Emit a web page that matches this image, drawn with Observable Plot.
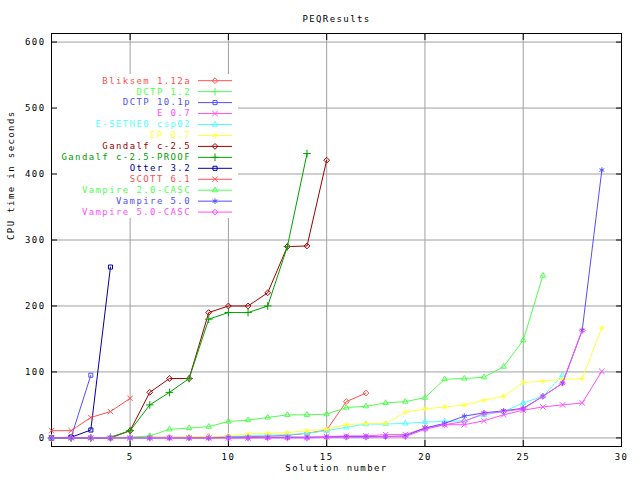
<!DOCTYPE html>
<html><head><meta charset="utf-8">
<script src="https://cdn.jsdelivr.net/npm/d3@7"></script>
<script src="https://cdn.jsdelivr.net/npm/@observablehq/plot@0.6"></script>
<style>body{margin:0;background:#fff} svg{display:block}</style>
</head><body><div id="chart"></div>
<script>
const title = "PEQResults";
const xLabel = "Solution number";
const yLabel = "CPU time in seconds";
const xTicks = [5, 10, 15, 20, 25, 30];
const yTicks = [0, 100, 200, 300, 400, 500, 600];

const seriesNames = ["Bliksem 1.12a", "DCTP 1.2", "DCTP 10.1p", "E 0.7", "E-SETHEO csp02", "EP 0.7",
  "Gandalf c-2.5", "Gandalf c-2.5-PROOF", "Otter 3.2", "SCOTT 6.1", "Vampire 2.0-CASC", "Vampire 5.0", "Vampire 5.0-CASC"];
const seriesColors = ["#ff5050", "#50ff50", "#5050ff", "#ff50ff", "#50ffff", "#ffff40",
  "#a00000", "#00a000", "#0000a0", "#ff5050", "#50ff50", "#5050ff", "#ff50ff"];
const seriesSymbols = ["diamond2", "plus", "square2", "times", "triangle2", "asterisk",
  "diamond2", "plus", "square2", "times", "triangle2", "asterisk", "diamond2"];

// CPU times (seconds) per solution number, starting at 1
const bliksem = [0,0,0,0,0,1,1,1,2,2,2,3,4,7,12,55,68];
const dctp12 = [0,0,0,0,1,1];
const dctp101p = [0,1,95];
const e07 = [0,0,0,0,0,0,0,0,0,0,0,1,1,1,2,3,3,5,5,15,20,20,26,35,42,47,50,53,101];
const eSetheo = [0,0,0,0,0,0,1,1,1,2,3,4,5,7,11,16,21,21,22,24,25,26,35,40,53,63,95];
const ep07 = [0,0,0,0,0,1,1,2,2,3,6,7,8,11,13,20,22,22,39,44,47,50,57,63,84,86,89,90,167];
const gandalf = [0,0,0,0,11,69,90,90,190,200,200,220,290,291,421];
const gandalfProof = [0,0,0,1,11,50,69,90,180,190,190,200,290,431];
const otter = [0,1,12,259];
const scott = [11,11,31,40,60];
const vampire20 = [0,0,0,1,1,3,13,15,17,25,27,31,35,35,36,46,48,53,55,61,89,90,92,108,148,246];
const vampire50 = [0,0,0,0,0,0,0,0,0,1,1,1,1,1,1,2,2,2,3,15,22,33,38,41,45,63,83,163,406];
const vampire50casc = [0,0,0,0,0,0,0,0,0,0,0,0,0,0,1,1,1,2,2,13,20,25,37,40,44,63,83,163];

const seriesValues = [bliksem, dctp12, dctp101p, e07, eSetheo, ep07, gandalf, gandalfProof,
  otter, scott, vampire20, vampire50, vampire50casc];

const FONT = "'DejaVu Sans Mono', monospace";
const FS = 9;
const LS = "1.4px";
const R = 2.6;

const seriesMarks = [];
seriesValues.forEach((vals, i) => {
  const rows = vals.map((t, k) => ({n: k + 1, t}));
  seriesMarks.push(Plot.line(rows, {x: "n", y: "t", stroke: seriesColors[i], strokeWidth: 1}));
  seriesMarks.push(Plot.dot(rows, {x: "n", y: "t", stroke: seriesColors[i], symbol: seriesSymbols[i], r: R, strokeWidth: 1, fill: "none"}));
});

const chart = Plot.plot({
  width: 640, height: 480,
  marginLeft: 51, marginRight: 19, marginTop: 33, marginBottom: 34,
  style: {fontFamily: FONT, fontSize: FS + "px", letterSpacing: LS, background: "#fff", color: "#000"},
  x: {domain: [1, 30]},
  y: {domain: [-13, 613]},
  marks: [
    Plot.gridX(xTicks, {stroke: "#a0a0a0", strokeOpacity: 1}),
    Plot.gridY(yTicks, {stroke: "#a0a0a0", strokeOpacity: 1}),
    Plot.axisX(xTicks, {tickSize: 0, tickPadding: 7, label: null, fontSize: FS}),
    Plot.axisX(xTicks, {tickSize: -6, text: null, label: null}),
    Plot.axisX(xTicks, {anchor: "top", tickSize: -6, text: null, label: null}),
    Plot.axisY(yTicks, {tickSize: 0, tickPadding: 6, label: null, fontSize: FS}),
    Plot.axisY(yTicks, {tickSize: -6, text: null, label: null}),
    Plot.axisY(yTicks, {anchor: "right", tickSize: -6, text: null, label: null}),
    Plot.frame({stroke: "#000"}),
    Plot.text([title], {frameAnchor: "top", dy: -18, fontSize: FS}),
    Plot.text([xLabel], {frameAnchor: "bottom", dy: 24, fontSize: FS}),
    Plot.text([yLabel], {frameAnchor: "left", dx: -40, rotate: -90, fontSize: FS}),
    ...seriesMarks
  ]
});
document.getElementById("chart").appendChild(chart);

// Legend (key) drawn on top of the plot, with white box behind it
const svg = d3.select(chart);
const firstTick = chart.querySelector('g[aria-label="x-axis tick"]');
const keyBg = document.createElementNS("http://www.w3.org/2000/svg", "rect");
keyBg.setAttribute("x", 52); keyBg.setAttribute("y", 74);
keyBg.setAttribute("width", 186); keyBg.setAttribute("height", 144);
keyBg.setAttribute("fill", "#fff");
chart.insertBefore(keyBg, firstTick);

const symbolTypes = {diamond2: d3.symbolDiamond2, plus: d3.symbolPlus, square2: d3.symbolSquare2,
  times: d3.symbolTimes, triangle2: d3.symbolTriangle2, asterisk: d3.symbolAsterisk};
const key = svg.append("g").attr("font-family", FONT).attr("font-size", FS).attr("letter-spacing", LS);
const ky0 = 80.7, kdy = 10.95;
seriesNames.forEach((name, i) => {
  const y = ky0 + i * kdy;
  key.append("text").attr("x", 191).attr("y", y).attr("dy", "0.32em")
    .attr("text-anchor", "end").attr("fill", seriesColors[i]).text(name);
  key.append("line").attr("x1", 198).attr("x2", 232).attr("y1", y).attr("y2", y)
    .attr("stroke", seriesColors[i]).attr("stroke-width", 1);
  key.append("path").attr("transform", `translate(215,${y})`)
    .attr("d", d3.symbol(symbolTypes[seriesSymbols[i]], Math.PI * R * R)())
    .attr("fill", "none").attr("stroke", seriesColors[i]).attr("stroke-width", 1);
});
</script></body></html>
